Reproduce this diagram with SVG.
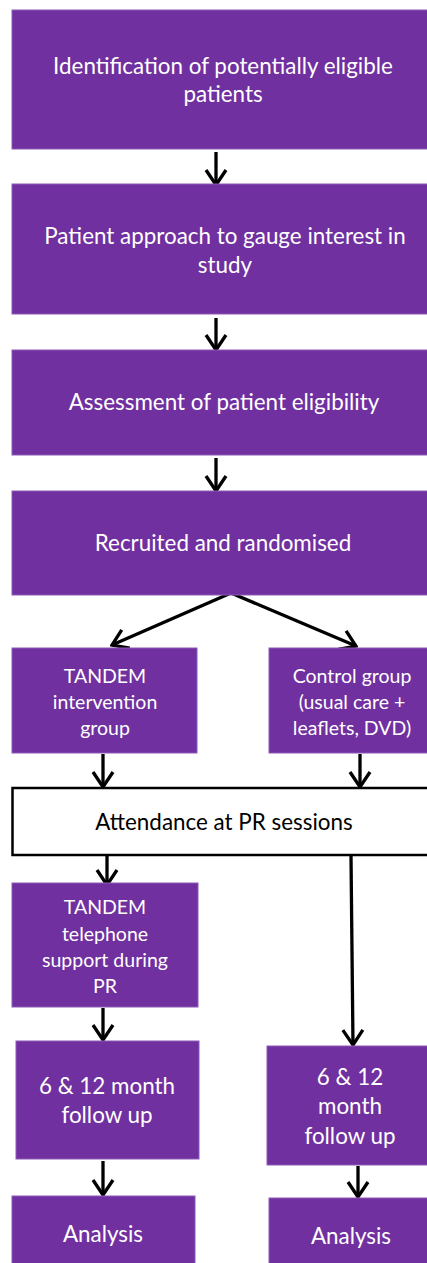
<svg xmlns="http://www.w3.org/2000/svg" width="427" height="1263" viewBox="0 0 427 1263">
<style>
.box{fill:#7030A0;stroke:#8b5bb8;stroke-width:1}
.wbox{fill:#fff;stroke:#000;stroke-width:2.5}
.t{font-family:Lato,"Open Sans",sans-serif;fill:#fff;text-anchor:middle;font-size:22.4px}
.s{font-size:19.5px}
.k{fill:#000}
.c{fill:none;stroke:#000;stroke-width:3.3;marker-end:url(#ah)}
</style>
<defs>
<marker id="ah" markerUnits="userSpaceOnUse" viewBox="-18 -12 20 24" refX="0" refY="0" markerWidth="20" markerHeight="24" orient="auto">
<path d="M-15,-10 L0,0 L-15,10" fill="none" stroke="#000" stroke-width="3.3"/>
</marker>
</defs>
<g id="connectors">
<path class="c" d="M216,152 L216,185"/>
<path class="c" d="M216,318 L216,350"/>
<path class="c" d="M216,458 L216,491"/>
<path class="c" d="M231,593 L112,645"/>
<path class="c" d="M231,593 L356,646"/>
<path class="c" d="M103,754 L103,787"/>
<path class="c" d="M360,754 L360,787"/>
<path class="c" d="M107,856 L107,885"/>
<path class="c" d="M351,856 L353,1045"/>
<path class="c" d="M103,1008 L103,1040"/>
<path class="c" d="M103,1161 L103,1195"/>
<path class="c" d="M358,1166 L358,1197"/>
</g>
<g id="n1"><rect class="box" x="12" y="10" width="425" height="139"/>
<text class="t" x="223" y="74">Identification of potentially eligible</text>
<text class="t" x="223" y="102">patients</text></g>
<g id="n2"><rect class="box" x="12" y="184" width="425" height="130"/>
<text class="t" x="225" y="244">Patient approach to gauge interest in</text>
<text class="t" x="225" y="273">study</text></g>
<g id="n3"><rect class="box" x="12" y="350" width="425" height="105"/>
<text class="t" x="224" y="410">Assessment of patient eligibility</text></g>
<g id="n4"><rect class="box" x="12" y="491" width="425" height="104"/>
<text class="t" x="223" y="551">Recruited and randomised</text></g>
<g id="n5"><rect class="box" x="12" y="648" width="185" height="105"/>
<text class="t s" x="105" y="683">TANDEM</text>
<text class="t s" x="105" y="709">intervention</text>
<text class="t s" x="105" y="735">group</text></g>
<g id="n6"><rect class="box" x="269" y="648" width="168" height="105"/>
<text class="t s" x="352" y="683">Control group</text>
<text class="t s" x="352" y="709">(usual care +</text>
<text class="t s" x="352" y="735">leaflets, DVD)</text></g>
<g id="n7"><rect class="wbox" x="12.5" y="788" width="430" height="67"/>
<text class="t k" x="224" y="830">Attendance at PR sessions</text></g>
<g id="n8"><rect class="box" x="12" y="883" width="186" height="124"/>
<text class="t s" x="105" y="914">TANDEM</text>
<text class="t s" x="105" y="941">telephone</text>
<text class="t s" x="105" y="967">support during</text>
<text class="t s" x="105" y="993">PR</text></g>
<g id="n9"><rect class="box" x="16" y="1041" width="183" height="118"/>
<text class="t" x="107" y="1094">6 &amp; 12 month</text>
<text class="t" x="107" y="1123">follow up</text></g>
<g id="n10"><rect class="box" x="267" y="1046" width="170" height="119"/>
<text class="t" x="350" y="1085">6 &amp; 12</text>
<text class="t" x="350" y="1114">month</text>
<text class="t" x="350" y="1144">follow up</text></g>
<g id="n11"><rect class="box" x="12" y="1196" width="183" height="70"/>
<text class="t" x="103" y="1242">Analysis</text></g>
<g id="n12"><rect class="box" x="269" y="1198" width="168" height="68"/>
<text class="t" x="351" y="1244">Analysis</text></g>
</svg>
